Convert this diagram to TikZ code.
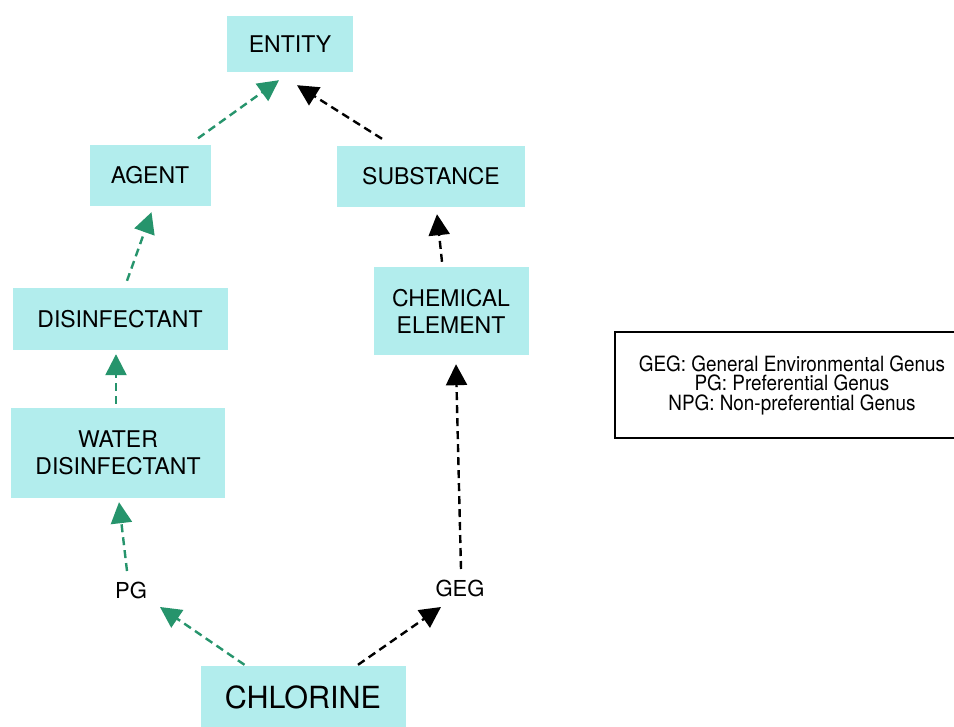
\documentclass[tikz,border=0pt]{standalone}
\usepackage{fontspec}
\setmainfont{TeX Gyre Heros}
\usepackage{graphicx}
\usetikzlibrary{arrows.meta,calc}
\definecolor{boxfill}{RGB}{178,237,237}
\definecolor{arrgreen}{RGB}{38,148,108}
\begin{document}
\begin{tikzpicture}[x=1pt,y=-1pt,
  concept/.style={fill=boxfill,draw=none,align=center,inner sep=0pt,font=\fontsize{23}{27}\selectfont},
  lbl/.style={inner sep=0pt,font=\fontsize{22}{26}\selectfont},
  conn/.style={line width=2.4pt,dash pattern=on 8pt off 5pt,-{Triangle[length=21pt,width=21pt]}},
  gconn/.style={conn,color=arrgreen},
  kconn/.style={conn,color=black}]
\useasboundingbox (0,0) rectangle (954,727);
\fill[white] (0,0) rectangle (954,727);

\node[concept,minimum width=126,minimum height=56] (entity) at (290,44) {ENTITY};
\node[concept,minimum width=121,minimum height=61] (agent) at (150,175.5) {AGENT};
\node[concept,minimum width=188,minimum height=61] (substance) at (431,176.5) {SUBSTANCE};
\node[concept,minimum width=215,minimum height=62] (disinf) at (120,319) {DISINFECTANT};
\node[concept,minimum width=155,minimum height=88] (chem) at (451,311) {CHEMICAL\\ELEMENT};
\node[concept,minimum width=214,minimum height=90] (water) at (118,453) {WATER\\DISINFECTANT};
\node[concept,minimum width=205,minimum height=62,font=\fontsize{30.5}{34}\selectfont] (chlorine) at (303,697) {CHLORINE};
\node[lbl] (pg) at (131,590) {PG};
\node[lbl] (geg) at (460,588) {GEG};

\node[draw,line width=1.6pt,minimum width=354,minimum height=106,inner sep=0pt,align=center,
      font=\fontsize{21}{19.5}\selectfont] (legend) at (792,385)
  {\scalebox{0.9}[1]{GEG: General Environmental Genus}\\
   \scalebox{0.9}[1]{PG: Preferential Genus}\\
   \scalebox{0.9}[1]{NPG: Non-preferential Genus}};

\draw[gconn] ($(agent.north)+(48,-6.5)$) -- ($(entity.south)+(-11,8)$);
\draw[kconn] ($(substance.north)+(-49,-7)$) -- ($(entity.south)+(7,13)$);
\draw[gconn] ($(disinf.north)+(7,-7)$) -- ($(agent.south)+(1.5,6)$);
\draw[kconn] ($(chem.north)+(-9,-5)$) -- ($(substance.south)+(6,7)$);
\draw[gconn] ($(water.north)+(-2,-4)$) -- ($(disinf.south)+(-4,4)$);
\draw[kconn] ($(geg)+(1,-19)$) -- ($(chem.south)+(5,9)$);
\draw[gconn] ($(pg)+(-4,-19)$) -- ($(water.south)+(1,4)$);
\draw[gconn] ($(chlorine.north)+(-58.5,-1)$) -- ($(pg)+(29,17)$);
\draw[kconn] ($(chlorine.north)+(55,-1)$) -- ($(geg)+(-19,19)$);
\end{tikzpicture}
\end{document}
